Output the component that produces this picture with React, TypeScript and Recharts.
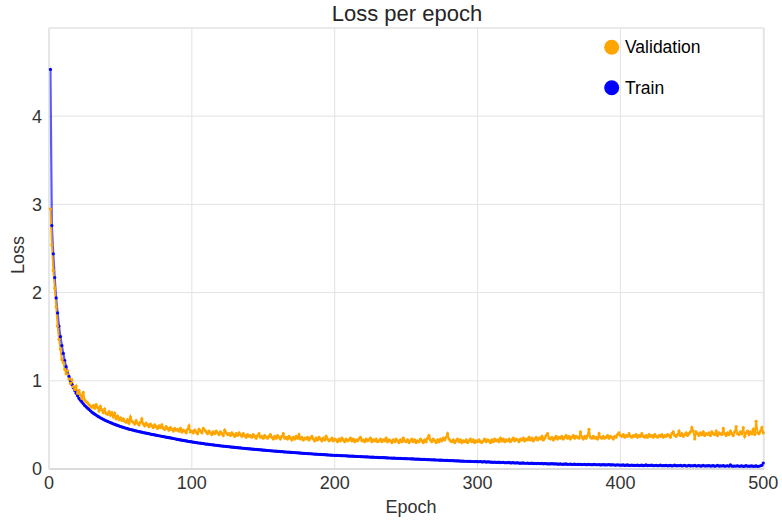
import React from "react";
import { LineChart, Line, XAxis, YAxis, CartesianGrid, Legend, ReferenceArea } from "recharts";

// validation loss per epoch (epochs 1..500)
const validationLoss = [
  2.95, 2.54, 2.25, 2.05, 1.84, 1.62, 1.47, 1.36, 1.24, 1.21,
  1.13, 1.08, 1.11, 1.02, 0.97, 1.01, 0.93, 0.9, 0.94, 0.86,
  0.89, 0.84, 0.8, 0.87, 0.78, 0.76, 0.75, 0.73, 0.71, 0.7,
  0.72, 0.69, 0.73, 0.7, 0.66, 0.71, 0.67, 0.64, 0.68, 0.63,
  0.62, 0.65, 0.61, 0.64, 0.59, 0.63, 0.57, 0.6, 0.56, 0.58,
  0.55, 0.57, 0.54, 0.53, 0.56, 0.52, 0.59, 0.54, 0.53, 0.51,
  0.55, 0.52, 0.5, 0.53, 0.57, 0.51, 0.49, 0.52, 0.5, 0.48,
  0.51, 0.49, 0.47, 0.5, 0.48, 0.46, 0.49, 0.47, 0.5, 0.46,
  0.45, 0.48, 0.46, 0.44, 0.47, 0.45, 0.43, 0.46, 0.44, 0.45,
  0.43, 0.46, 0.42, 0.44, 0.43, 0.41, 0.45, 0.49, 0.42, 0.43,
  0.41, 0.44, 0.42, 0.4, 0.45, 0.43, 0.41, 0.46, 0.44, 0.42,
  0.4, 0.43, 0.41, 0.39, 0.42, 0.4, 0.43, 0.41, 0.39, 0.42,
  0.4, 0.38, 0.44, 0.41, 0.39, 0.4, 0.38, 0.41, 0.39, 0.37,
  0.4, 0.38, 0.41, 0.39, 0.37, 0.4, 0.38, 0.36, 0.39, 0.37,
  0.38, 0.36, 0.39, 0.37, 0.35, 0.38, 0.4, 0.36, 0.37, 0.35,
  0.38, 0.36, 0.35, 0.37, 0.39, 0.36, 0.34, 0.37, 0.35, 0.38,
  0.36, 0.34, 0.37, 0.4, 0.35, 0.36, 0.34, 0.37, 0.35, 0.33,
  0.36, 0.34, 0.37, 0.35, 0.39, 0.34, 0.36, 0.33, 0.35, 0.34,
  0.36, 0.33, 0.35, 0.37, 0.34, 0.32, 0.35, 0.33, 0.36, 0.34,
  0.32, 0.35, 0.33, 0.37, 0.34, 0.32, 0.33, 0.35, 0.32, 0.34,
  0.33, 0.31, 0.34, 0.32, 0.35, 0.33, 0.31, 0.34, 0.32, 0.33,
  0.35, 0.32, 0.34, 0.31, 0.33, 0.32, 0.34, 0.36, 0.32, 0.33,
  0.31, 0.34, 0.32, 0.33, 0.35, 0.31, 0.33, 0.32, 0.34, 0.31,
  0.32, 0.34, 0.31, 0.33, 0.32, 0.35, 0.31, 0.33, 0.32, 0.3,
  0.33, 0.31, 0.34, 0.32, 0.3, 0.33, 0.31, 0.35, 0.32, 0.31,
  0.33, 0.3, 0.32, 0.34, 0.31, 0.33, 0.3, 0.32, 0.31, 0.34,
  0.32, 0.3, 0.33, 0.31, 0.35, 0.38, 0.33, 0.31, 0.34, 0.32,
  0.3, 0.33, 0.31, 0.34, 0.32, 0.35, 0.33, 0.36, 0.4, 0.34,
  0.32, 0.31, 0.33, 0.3, 0.32, 0.34, 0.31, 0.33, 0.3, 0.32,
  0.31, 0.33, 0.3, 0.32, 0.34, 0.31, 0.33, 0.3, 0.32, 0.31,
  0.33, 0.31, 0.3, 0.32, 0.34, 0.31, 0.33, 0.32, 0.3, 0.33,
  0.31, 0.34, 0.32, 0.33, 0.31, 0.35, 0.32, 0.34, 0.31, 0.33,
  0.32, 0.34, 0.31, 0.33, 0.35, 0.32, 0.34, 0.33, 0.31, 0.34,
  0.33, 0.35, 0.32, 0.34, 0.33, 0.36, 0.33, 0.35, 0.32, 0.34,
  0.36, 0.33, 0.35, 0.34, 0.37, 0.33, 0.35, 0.38, 0.4, 0.35,
  0.34, 0.36, 0.33, 0.35, 0.37, 0.34, 0.36, 0.35, 0.37, 0.34,
  0.36, 0.38, 0.35, 0.37, 0.34, 0.36, 0.38, 0.35, 0.37, 0.36,
  0.35, 0.42, 0.36, 0.34, 0.37, 0.35, 0.38, 0.45, 0.36, 0.35,
  0.37, 0.35, 0.36, 0.34, 0.4, 0.36, 0.35, 0.37, 0.35, 0.36,
  0.38, 0.35, 0.37, 0.36, 0.34, 0.37, 0.36, 0.39, 0.41, 0.38,
  0.37, 0.39, 0.36, 0.38, 0.37, 0.4, 0.37, 0.36, 0.38, 0.37,
  0.39, 0.36, 0.38, 0.37, 0.4, 0.37, 0.36, 0.38, 0.36, 0.39,
  0.37, 0.38, 0.36, 0.39, 0.37, 0.36, 0.38, 0.37, 0.39, 0.36,
  0.38, 0.37, 0.39, 0.38, 0.36, 0.4, 0.42, 0.38, 0.37, 0.39,
  0.43, 0.38, 0.4, 0.37, 0.39, 0.41, 0.38, 0.4, 0.42, 0.47,
  0.43, 0.34, 0.42, 0.4, 0.38, 0.41, 0.39, 0.42, 0.38, 0.4,
  0.39, 0.41, 0.38, 0.42, 0.4, 0.39, 0.43, 0.38, 0.41, 0.4,
  0.39, 0.46, 0.4, 0.38, 0.41, 0.39, 0.43, 0.4, 0.38, 0.42,
  0.48, 0.4, 0.39, 0.42, 0.4, 0.47, 0.37, 0.41, 0.43, 0.39,
  0.42, 0.4, 0.45, 0.39, 0.54, 0.41, 0.4, 0.43, 0.47, 0.41,
];

// training loss per epoch (epochs 1..500)
const trainLoss = [
  4.53, 2.76, 2.44, 2.17, 1.94, 1.77, 1.62, 1.5, 1.4, 1.31,
  1.23, 1.16, 1.1, 1.05, 1.0, 0.96, 0.92, 0.89, 0.86, 0.83,
  0.8, 0.78, 0.76, 0.74, 0.72, 0.705, 0.69, 0.675, 0.66, 0.645,
  0.633, 0.622, 0.611, 0.6, 0.59, 0.581, 0.572, 0.563, 0.555, 0.547,
  0.54, 0.533, 0.526, 0.519, 0.512, 0.506, 0.5, 0.494, 0.488, 0.482,
  0.477, 0.472, 0.467, 0.462, 0.457, 0.452, 0.448, 0.444, 0.44, 0.436,
  0.432, 0.428, 0.424, 0.42, 0.417, 0.413, 0.41, 0.406, 0.403, 0.4,
  0.396, 0.393, 0.39, 0.386, 0.383, 0.38, 0.377, 0.374, 0.371, 0.368,
  0.365, 0.361, 0.358, 0.355, 0.352, 0.349, 0.346, 0.343, 0.339, 0.336,
  0.333, 0.33, 0.327, 0.324, 0.321, 0.318, 0.315, 0.312, 0.31, 0.307,
  0.305, 0.302, 0.3, 0.297, 0.295, 0.293, 0.29, 0.288, 0.285, 0.283,
  0.281, 0.279, 0.277, 0.275, 0.273, 0.271, 0.269, 0.267, 0.265, 0.263,
  0.261, 0.259, 0.258, 0.256, 0.254, 0.252, 0.25, 0.249, 0.247, 0.245,
  0.243, 0.242, 0.24, 0.239, 0.237, 0.235, 0.234, 0.232, 0.231, 0.229,
  0.228, 0.226, 0.225, 0.223, 0.222, 0.22, 0.219, 0.217, 0.216, 0.214,
  0.213, 0.211, 0.21, 0.209, 0.207, 0.206, 0.204, 0.203, 0.202, 0.2,
  0.199, 0.198, 0.197, 0.195, 0.194, 0.193, 0.192, 0.191, 0.189, 0.188,
  0.187, 0.186, 0.184, 0.183, 0.182, 0.181, 0.18, 0.178, 0.177, 0.176,
  0.175, 0.174, 0.173, 0.172, 0.17, 0.169, 0.168, 0.167, 0.166, 0.165,
  0.164, 0.163, 0.162, 0.161, 0.16, 0.159, 0.158, 0.157, 0.156, 0.155,
  0.154, 0.154, 0.153, 0.152, 0.151, 0.15, 0.15, 0.149, 0.148, 0.147,
  0.146, 0.146, 0.145, 0.144, 0.143, 0.142, 0.142, 0.141, 0.14, 0.139,
  0.138, 0.138, 0.137, 0.136, 0.135, 0.134, 0.134, 0.133, 0.132, 0.131,
  0.13, 0.13, 0.129, 0.128, 0.128, 0.127, 0.126, 0.125, 0.125, 0.124,
  0.123, 0.123, 0.122, 0.121, 0.121, 0.12, 0.119, 0.118, 0.118, 0.117,
  0.116, 0.116, 0.115, 0.114, 0.114, 0.113, 0.112, 0.111, 0.111, 0.11,
  0.109, 0.109, 0.108, 0.107, 0.107, 0.106, 0.105, 0.104, 0.104, 0.103,
  0.102, 0.102, 0.101, 0.1, 0.1, 0.099, 0.098, 0.097, 0.097, 0.096,
  0.095, 0.095, 0.094, 0.093, 0.093, 0.092, 0.091, 0.09, 0.09, 0.089,
  0.088, 0.088, 0.087, 0.087, 0.086, 0.085, 0.085, 0.084, 0.084, 0.083,
  0.082, 0.085, 0.08, 0.081, 0.083, 0.078, 0.08, 0.081, 0.077, 0.077,
  0.076, 0.079, 0.074, 0.075, 0.077, 0.073, 0.074, 0.076, 0.071, 0.072,
  0.071, 0.074, 0.069, 0.07, 0.072, 0.068, 0.069, 0.071, 0.066, 0.067,
  0.066, 0.069, 0.065, 0.065, 0.067, 0.063, 0.064, 0.066, 0.062, 0.063,
  0.062, 0.065, 0.061, 0.061, 0.063, 0.059, 0.06, 0.062, 0.058, 0.059,
  0.058, 0.061, 0.057, 0.057, 0.059, 0.055, 0.056, 0.058, 0.054, 0.055,
  0.055, 0.057, 0.053, 0.054, 0.056, 0.052, 0.053, 0.055, 0.051, 0.052,
  0.052, 0.054, 0.05, 0.051, 0.053, 0.049, 0.05, 0.052, 0.048, 0.049,
  0.049, 0.052, 0.048, 0.048, 0.05, 0.046, 0.047, 0.05, 0.046, 0.047,
  0.047, 0.05, 0.046, 0.046, 0.048, 0.044, 0.045, 0.048, 0.044, 0.045,
  0.043, 0.047, 0.041, 0.043, 0.046, 0.04, 0.042, 0.045, 0.04, 0.042,
  0.041, 0.045, 0.039, 0.041, 0.044, 0.038, 0.04, 0.046, 0.039, 0.041,
  0.04, 0.043, 0.037, 0.039, 0.042, 0.037, 0.039, 0.044, 0.037, 0.039,
  0.038, 0.042, 0.036, 0.038, 0.041, 0.035, 0.037, 0.043, 0.036, 0.038,
  0.037, 0.041, 0.035, 0.037, 0.04, 0.034, 0.036, 0.042, 0.035, 0.037,
  0.036, 0.04, 0.034, 0.036, 0.039, 0.033, 0.035, 0.041, 0.034, 0.036,
  0.035, 0.039, 0.033, 0.035, 0.038, 0.032, 0.034, 0.04, 0.033, 0.035,
  0.034, 0.038, 0.032, 0.034, 0.037, 0.031, 0.046, 0.033, 0.032, 0.034,
  0.033, 0.037, 0.031, 0.033, 0.036, 0.03, 0.032, 0.038, 0.031, 0.033,
  0.032, 0.036, 0.03, 0.032, 0.035, 0.03, 0.031, 0.037, 0.042, 0.068,
];

const epochs = trainLoss.map((_, i) => i + 1);
const xTicks = [0, 100, 200, 300, 400, 500];
const yTicks = [0, 1, 2, 3, 4];

const seriesNames = ["Validation", "Train"];
const seriesColors = ["#ffa500", "#0000ff"];

const FONT = "'Liberation Sans', Arial, sans-serif";

const data = epochs.map((epoch, i) => ({
  epoch,
  validation: validationLoss[i],
  train: trainLoss[i],
}));

const LegendBox = () => (
  <svg width={170} height={75} style={{ display: "block", overflow: "visible" }}>
    {seriesNames.map((name, i) => (
      <g key={name}>
        <circle cx={11.7} cy={17.3 + i * 40.4} r={7.5} fill={seriesColors[i]} />
        <text x={25} y={23.3 + i * 40.6} fontSize={17.5} fontFamily={FONT} fill="#000">
          {name}
        </text>
      </g>
    ))}
  </svg>
);

export default function App() {
  return (
    <div style={{ position: "absolute", left: 0, top: 0, width: 782, height: 523, background: "#fff" }}>
      <LineChart
        width={782}
        height={523}
        data={data}
        margin={{ top: 28, right: 18, left: 0, bottom: 24 }}
      >
        <CartesianGrid stroke="#e3e3e3" strokeWidth={1} />
        <ReferenceArea x1={0} x2={500.5} y1={0} y2={5} fill="none" stroke="#e3e3e3" strokeWidth={1} />
        <XAxis
          dataKey="epoch"
          type="number"
          domain={[0, 500.5]}
          ticks={xTicks}
          interval={0}
          height={30}
          tickLine={false}
          tickSize={0}
          tickMargin={7}
          axisLine={{ stroke: "#d6d6d6", strokeWidth: 1.5 }}
          tick={{ fontSize: 18, fill: "#333", fontFamily: FONT }}
        />
        <YAxis
          type="number"
          domain={[0, 5]}
          ticks={yTicks}
          interval={0}
          width={49}
          tickLine={false}
          tickSize={0}
          tickMargin={7}
          axisLine={{ stroke: "#e3e3e3", strokeWidth: 1 }}
          tick={{ fontSize: 18, fill: "#333", fontFamily: FONT }}
        />
        <Line
          dataKey="train"
          stroke="#0000ff"
          strokeOpacity={0.65}
          strokeWidth={2.2}
          dot={{ r: 1.6, fill: "#0000ff", stroke: "none" }}
          activeDot={false}
          isAnimationActive={false}
        />
        <Line
          dataKey="validation"
          stroke="#ffa500"
          strokeWidth={1.8}
          dot={{ r: 1.6, fill: "#ffa500", stroke: "none" }}
          activeDot={false}
          isAnimationActive={false}
        />
        <Legend
          layout="vertical"
          align="center"
          verticalAlign="middle"
          content={() => <LegendBox />}
          wrapperStyle={{ position: "absolute", left: 600, top: 30, width: 170, height: 75 }}
        />
      </LineChart>
      <svg
        width={782}
        height={523}
        style={{ position: "absolute", left: 0, top: 0, pointerEvents: "none" }}
      >
        <text x={407} y={21} textAnchor="middle" fontSize={22} fontFamily={FONT} fill="#262626">
          Loss per epoch
        </text>
        <text x={411} y={513} textAnchor="middle" fontSize={18} fontFamily={FONT} fill="#333">
          Epoch
        </text>
        <text
          x={24}
          y={255}
          textAnchor="middle"
          fontSize={18}
          fontFamily={FONT}
          fill="#333"
          transform="rotate(-90 24 255)"
        >
          Loss
        </text>
      </svg>
    </div>
  );
}
